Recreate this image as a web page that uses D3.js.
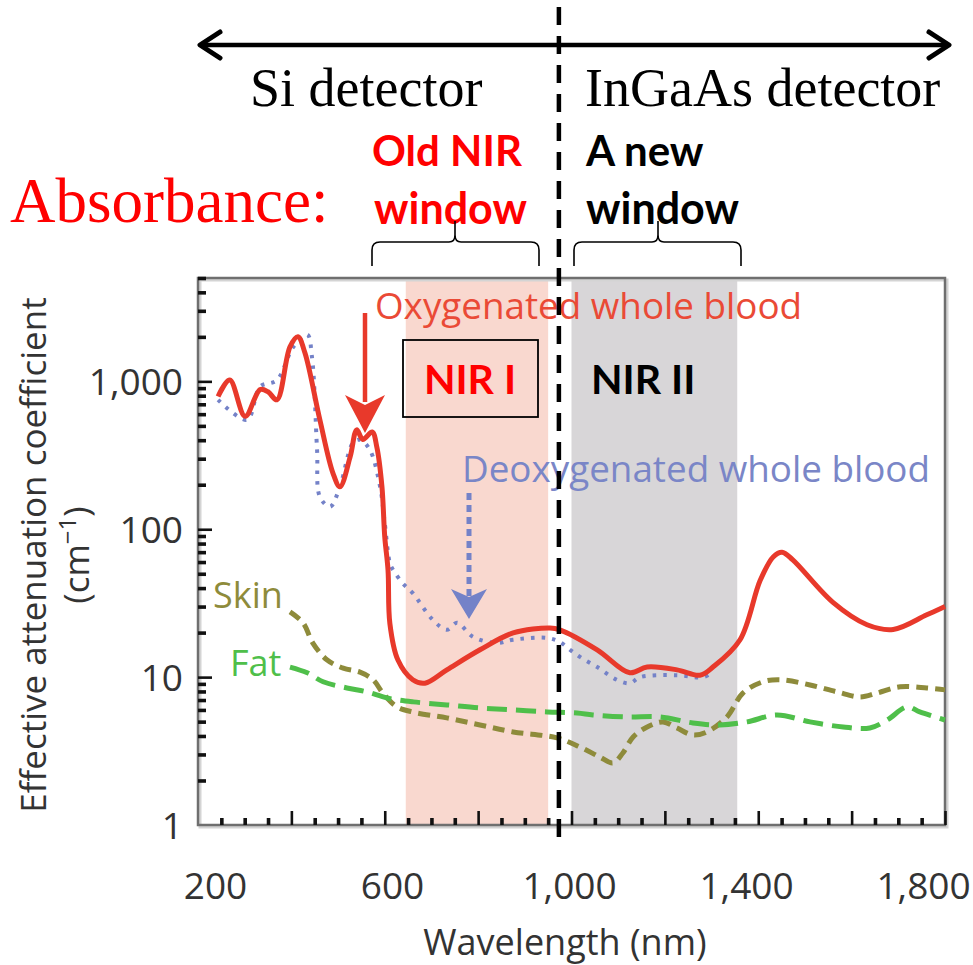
<!DOCTYPE html>
<html>
<head>
<meta charset="utf-8">
<script src="https://cdn.jsdelivr.net/npm/d3@7"></script>
<style>
  body { margin: 0; background: #fff; }
  svg { display: block; }
</style>
</head>
<body>
<div id="container"></div>
<script>
/* CONSTANTS AND GLOBALS */
const width = 973;
const height = 965;
const plot = { left: 198, right: 945, top: 278, bottom: 825 };

/* DATA */
// [wavelength nm, effective attenuation coefficient cm^-1]
const oxygenated = [[243,790],[268,1020],[301,580],[333,880],[350,850],[369,750],[397,1710],[414,2000],[429,1560],[461,550],[489,240],[504,194],[526,310],[540,470],[553,405],[573,455],[583,360],[594,194],[600,89],[607,53],[611,23],[628,13.1],[660,9.6],[686,9.1],[733,11.2],[804,15.3],[875,19.9],[954,21.5],[975,20.9],[1055,15.3],[1125,10.7],[1162,11.7],[1226,11.2],[1275,10.3],[1303,11.7],[1361,17.9],[1404,45],[1432,65],[1451,70],[1474,62],[1560,32],[1633,22.6],[1689,21],[1761,26.4],[1800,30]];
const deoxygenated = [[243,750],[305,550],[333,920],[369,1020],[404,1710],[434,2070],[444,1470],[455,345],[461,166],[483,142],[504,194],[532,384],[547,403],[568,345],[590,194],[600,110],[611,59],[618,53],[639,43],[660,37],[703,24.4],[733,20.9],[755,23.3],[789,18.7],[840,17],[875,17.9],[948,18.4],[975,17.3],[997,15.3],[1018,13.7],[1055,11.7],[1097,9.6],[1125,9.1],[1147,10],[1226,10.3],[1282,10],[1303,10.8]];
const skin = [[397,27.6],[425,23.3],[446,17],[476,13.1],[511,11.5],[547,10.8],[575,9.6],[596,7.8],[626,6.3],[661,5.8],[733,5.3],[804,4.75],[875,4.26],[969,3.88],[1018,3.37],[1061,2.88],[1089,2.63],[1110,3.07],[1132,3.94],[1162,4.6],[1196,4.98],[1226,4.53],[1260,4.06],[1290,4.26],[1333,5.38],[1367,7.8],[1410,9.3],[1447,9.6],[1511,8.85],[1569,7.94],[1618,7.35],[1654,7.8],[1704,8.6],[1761,8.45],[1800,8.2]];
const fat = [[397,11.7],[434,10.7],[468,9.3],[519,8.45],[562,7.94],[605,7.23],[661,6.8],[733,6.49],[804,6.19],[875,6],[948,5.82],[1012,5.72],[1046,5.55],[1119,5.38],[1190,5.38],[1260,4.9],[1318,4.75],[1376,4.98],[1440,5.55],[1511,4.98],[1582,4.6],[1639,4.53],[1676,5.13],[1719,6.29],[1746,5.82],[1800,5.13]];

const nirOne = [645, 950];
const nirTwo = [1000, 1355];
const detectorSplit = 973;
const xLabels = [200, 600, 1000, 1400, 1800];
const yLabels = [1, 10, 100, 1000];

/* SCALES */
const xScale = d3.scaleLinear().domain([200, 1800]).range([plot.left, plot.right]);
// tick labels in the figure sit slightly inward from their ticks
const xLabelScale = d3.scaleLinear().domain([200, 1800]).range([215, 923]);
const yScale = d3.scaleLog().domain([1, 5000]).range([plot.bottom, plot.top]);

const sans = "'Open Sans', 'Noto Sans', sans-serif";
const bold = "Lato, 'Open Sans', sans-serif";
const serif = "'Liberation Serif', 'DejaVu Serif', serif";
const red = "#e8392b";

const svg = d3.select("#container").append("svg")
  .attr("width", width)
  .attr("height", height);

// bands
svg.append("rect")
  .attr("x", xScale(nirOne[0])).attr("y", plot.top)
  .attr("width", xScale(nirOne[1]) - xScale(nirOne[0]))
  .attr("height", plot.bottom - plot.top)
  .attr("fill", "#f9d8cf");
svg.append("rect")
  .attr("x", xScale(nirTwo[0])).attr("y", plot.top)
  .attr("width", xScale(nirTwo[1]) - xScale(nirTwo[0]))
  .attr("height", plot.bottom - plot.top)
  .attr("fill", "#d8d6d8");

// frame
svg.append("rect")
  .attr("x", plot.left + 2).attr("y", plot.top + 2)
  .attr("width", plot.right - plot.left).attr("height", plot.bottom - plot.top)
  .attr("fill", "none").attr("stroke", "#d4d4d4").attr("stroke-width", 3);
svg.append("rect")
  .attr("x", plot.left).attr("y", plot.top)
  .attr("width", plot.right - plot.left).attr("height", plot.bottom - plot.top)
  .attr("fill", "none").attr("stroke", "#6f6f6f").attr("stroke-width", 2.5);

// ticks (inside)
const xTicks = d3.range(250, 1801, 50);
svg.append("g")
  .attr("transform", `translate(0,${plot.bottom})`)
  .call(d3.axisTop(xScale).tickValues(xTicks).tickSizeInner(0).tickSizeOuter(0).tickFormat(""))
  .call(g => g.select(".domain").remove())
  .call(g => g.selectAll(".tick line")
    .attr("y2", d => d % 200 === 0 ? -14 : -7)
    .attr("stroke", "#111")
    .attr("stroke-width", d => d % 200 === 0 ? 2.6 : 3.6));

const yTicks = [];
[1, 10, 100, 1000].forEach(p => d3.range(1, 10).forEach(m => { if (p * m <= 5000 && p * m > 1) yTicks.push(p * m); }));
svg.append("g")
  .attr("transform", `translate(${plot.left},0)`)
  .call(d3.axisRight(yScale).tickValues(yTicks).tickSizeInner(0).tickSizeOuter(0).tickFormat(""))
  .call(g => g.select(".domain").remove())
  .call(g => g.selectAll(".tick line")
    .attr("x2", d => yLabels.includes(d) ? 14 : 8)
    .attr("stroke", "#111")
    .attr("stroke-width", d => yLabels.includes(d) ? 2.6 : 3.6));

// tick labels
svg.append("g")
  .attr("transform", `translate(0,${plot.bottom})`)
  .call(d3.axisBottom(xLabelScale).tickValues(xLabels).tickSize(0).tickPadding(48).tickFormat(d3.format(",")))
  .call(g => g.select(".domain").remove())
  .call(g => g.selectAll("text")
    .attr("font-family", sans).attr("font-size", 37).attr("fill", "#333"));

svg.append("g")
  .attr("transform", `translate(${plot.left - 15},0)`)
  .call(d3.axisLeft(yScale).tickValues(yLabels).tickSize(0).tickPadding(0).tickFormat(d3.format(",")))
  .call(g => g.select(".domain").remove())
  .call(g => g.selectAll("text")
    .attr("font-family", sans).attr("font-size", 37).attr("fill", "#333").attr("dy", "0.36em"));

// axis titles
svg.append("text")
  .attr("x", 565).attr("y", 955)
  .attr("text-anchor", "middle")
  .attr("font-family", sans).attr("font-size", 36).attr("fill", "#333")
  .text("Wavelength (nm)");

const yTitle = svg.append("text")
  .attr("transform", "translate(46,555) rotate(-90)")
  .attr("text-anchor", "middle")
  .attr("font-family", sans).attr("font-size", 35).attr("fill", "#333");
yTitle.append("tspan").attr("x", 0).attr("dy", 0).text("Effective attenuation coefficient");
const cm = yTitle.append("tspan").attr("x", 0).attr("dy", 43);
cm.text("(cm");
yTitle.append("tspan").attr("dy", -13).attr("font-size", 24).text("−1");
yTitle.append("tspan").attr("dy", 13).text(")");

/* CURVES */
const line = d3.line()
  .x(d => xScale(d[0]))
  .y(d => yScale(d[1]))
  .curve(d3.curveCatmullRom.alpha(0.5));

svg.append("path").datum(skin)
  .attr("d", line).attr("fill", "none")
  .attr("stroke", "#8e8b3b").attr("stroke-width", 5)
  .attr("stroke-dasharray", "12,7");
svg.append("path").datum(fat)
  .attr("d", line).attr("fill", "none")
  .attr("stroke", "#4fbf4a").attr("stroke-width", 5)
  .attr("stroke-dasharray", "20,9");
svg.append("path").datum(deoxygenated)
  .attr("d", line).attr("fill", "none")
  .attr("stroke", "#7482c8").attr("stroke-width", 4)
  .attr("stroke-dasharray", "3.5,7");
svg.append("path").datum(oxygenated)
  .attr("d", line).attr("fill", "none")
  .attr("stroke", red).attr("stroke-width", 5)
  .attr("stroke-linejoin", "round");

/* IN-PLOT ANNOTATIONS */
svg.append("text").attr("x", 375).attr("y", 319)
  .attr("font-family", sans).attr("font-size", 36.8).attr("fill", "#ea4a36")
  .text("Oxygenated whole blood");
svg.append("text").attr("x", 462).attr("y", 482)
  .attr("font-family", sans).attr("font-size", 36.8).attr("fill", "#7a86c7")
  .text("Deoxygenated whole blood");
svg.append("text").attr("x", 213).attr("y", 608)
  .attr("font-family", sans).attr("font-size", 36).attr("fill", "#8e8b3b")
  .text("Skin");
svg.append("text").attr("x", 230).attr("y", 676)
  .attr("font-family", sans).attr("font-size", 36).attr("fill", "#4fbf4a")
  .text("Fat");

// red arrow
svg.append("line").attr("x1", 365).attr("x2", 365).attr("y1", 313).attr("y2", 402)
  .attr("stroke", red).attr("stroke-width", 4.5);
svg.append("path").attr("d", "M365,433 L345,395 L365,405 L385,395 Z").attr("fill", red);

// blue dashed arrow
svg.append("line").attr("x1", 469).attr("x2", 469).attr("y1", 493).attr("y2", 596)
  .attr("stroke", "#7482c8").attr("stroke-width", 5).attr("stroke-dasharray", "7,5");
svg.append("path").attr("d", "M469,619 L451,589 L469,597 L487,589 Z").attr("fill", "#7482c8");

// NIR labels
svg.append("rect").attr("x", 403).attr("y", 340).attr("width", 135).attr("height", 77)
  .attr("fill", "none").attr("stroke", "#000").attr("stroke-width", 1.8);
svg.append("text").attr("x", 470).attr("y", 394).attr("text-anchor", "middle")
  .attr("font-family", bold).attr("font-weight", 700).attr("font-size", 41).attr("fill", "#ff0000")
  .text("NIR I");
svg.append("text").attr("x", 591).attr("y", 394)
  .attr("font-family", bold).attr("font-weight", 700).attr("font-size", 41).attr("fill", "#000")
  .text("NIR II");

/* TOP ANNOTATIONS */
svg.append("line").attr("x1", 200).attr("x2", 949).attr("y1", 45).attr("y2", 45)
  .attr("stroke", "#000").attr("stroke-width", 4.5);
svg.append("path").attr("d", "M220,32 L200,45 L220,58").attr("fill", "none")
  .attr("stroke", "#000").attr("stroke-width", 5).attr("stroke-linecap", "round").attr("stroke-linejoin", "round");
svg.append("path").attr("d", "M929,32 L949,45 L929,58").attr("fill", "none")
  .attr("stroke", "#000").attr("stroke-width", 5).attr("stroke-linecap", "round").attr("stroke-linejoin", "round");

svg.append("text").attr("x", 250).attr("y", 106)
  .attr("font-family", serif).attr("font-size", 54).attr("fill", "#000")
  .text("Si detector");
svg.append("text").attr("x", 585).attr("y", 106)
  .attr("font-family", serif).attr("font-size", 54).attr("fill", "#000")
  .text("InGaAs detector");
svg.append("text").attr("x", 10).attr("y", 222)
  .attr("font-family", serif).attr("font-size", 63).attr("fill", "#ff0000")
  .text("Absorbance:");

svg.append("text").attr("x", 372).attr("y", 166)
  .attr("font-family", bold).attr("font-weight", 700).attr("font-size", 42).attr("fill", "#ff0000")
  .text("Old NIR");
svg.append("text").attr("x", 374).attr("y", 224)
  .attr("font-family", bold).attr("font-weight", 700).attr("font-size", 43).attr("fill", "#ff0000")
  .text("window");
svg.append("text").attr("x", 586).attr("y", 166)
  .attr("font-family", bold).attr("font-weight", 700).attr("font-size", 42).attr("fill", "#000")
  .text("A new");
svg.append("text").attr("x", 586).attr("y", 224)
  .attr("font-family", bold).attr("font-weight", 700).attr("font-size", 43).attr("fill", "#000")
  .text("window");

// braces
const brace = (x0, x1, xm) =>
  `M${x0},266 L${x0},250 Q${x0},242 ${x0 + 8},242 L${xm - 6},242 Q${xm},242 ${xm},235 L${xm},221 ` +
  `M${xm},235 Q${xm},242 ${xm + 6},242 L${x1 - 8},242 Q${x1},242 ${x1},250 L${x1},266`;
svg.append("path").attr("d", brace(372, 539, 455))
  .attr("fill", "none").attr("stroke", "#000").attr("stroke-width", 1.6);
svg.append("path").attr("d", brace(574, 741, 658))
  .attr("fill", "none").attr("stroke", "#000").attr("stroke-width", 1.6);

// detector boundary
svg.append("line")
  .attr("x1", xScale(detectorSplit)).attr("x2", xScale(detectorSplit))
  .attr("y1", 7).attr("y2", 840)
  .attr("stroke", "#000").attr("stroke-width", 4.5)
  .attr("stroke-dasharray", "18,11");
</script>
</body>
</html>
